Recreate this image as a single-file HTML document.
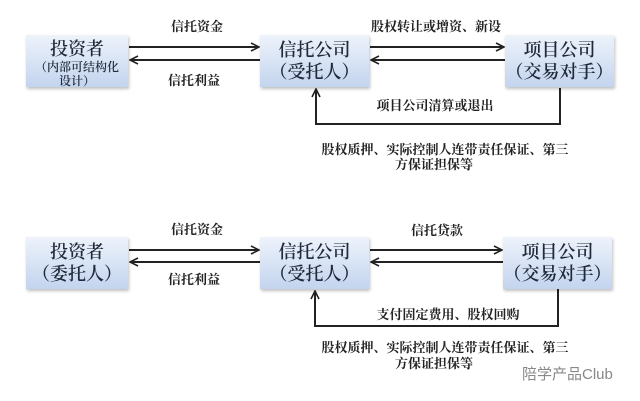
<!DOCTYPE html>
<html><head><meta charset="utf-8"><style>
body{margin:0;width:640px;height:401px;background:#fff;position:relative;overflow:hidden;font-family:"Liberation Serif","Noto Serif CJK SC",serif;color:#222}
.b{position:absolute;background:linear-gradient(#eef3fb,#c3d4ee);box-shadow:1px 2px 3px rgba(0,0,0,.25);text-align:center;font-size:18px;line-height:22px;color:#1f2a3a;font-weight:600}
.t{position:absolute;font-size:13px;white-space:nowrap;color:#222;font-weight:bold;transform:translateX(-50%)}
svg{position:absolute;left:0;top:0}
</style></head><body>
<svg width="640" height="401">
<defs><marker id="a" markerWidth="10" markerHeight="10" refX="9" refY="5" orient="auto" markerUnits="userSpaceOnUse"><path d="M1,1 L9,5 L1,9" fill="none" stroke="#222" stroke-width="1.6"/></marker></defs>
<g stroke="#222" stroke-width="2" fill="none" marker-end="url(#a)">
<line x1="129" y1="47" x2="259" y2="47"/><line x1="260" y1="60" x2="130" y2="60"/>
<line x1="370" y1="47" x2="504" y2="47"/><line x1="505" y1="60" x2="371" y2="60"/>
<polyline points="560,88 560,124 316,124 316,89"/>
<line x1="129" y1="250" x2="259" y2="250"/><line x1="260" y1="262" x2="130" y2="262"/>
<line x1="370" y1="250" x2="502" y2="250"/><line x1="503" y1="262" x2="371" y2="262"/>
<polyline points="558,289 558,326 315,326 315,291"/>
</g></svg>
<div class="b" style="left:26px;top:35px;width:102px;height:52px"><div style="padding-top:3px">投资者</div><div style="font-size:12px;line-height:14px">（内部可结构化<br>设计）</div></div>
<div class="b" style="left:260px;top:35px;width:109px;height:52px;padding-top:4px;box-sizing:border-box">信托公司<br>（受托人）</div>
<div class="b" style="left:505px;top:35px;width:109px;height:52px;padding-top:4px;box-sizing:border-box">项目公司<br>（交易对手）</div>
<div class="b" style="left:26px;top:237px;width:102px;height:52px;padding-top:4px;box-sizing:border-box">投资者<br>（委托人）</div>
<div class="b" style="left:260px;top:237px;width:109px;height:52px;padding-top:4px;box-sizing:border-box">信托公司<br>（受托人）</div>
<div class="b" style="left:503px;top:237px;width:109px;height:52px;padding-top:4px;box-sizing:border-box">项目公司<br>（交易对手）</div>
<div class="t" style="left:197px;top:16px">信托资金</div>
<div class="t" style="left:194px;top:70px">信托利益</div>
<div class="t" style="left:436px;top:16px">股权转让或增资、新设</div>
<div class="t" style="left:435px;top:95px">项目公司清算或退出</div>
<div class="t" style="left:445px;top:139px">股权质押、实际控制人连带责任保证、第三</div>
<div class="t" style="left:434px;top:154px">方保证担保等</div>
<div class="t" style="left:197px;top:219px">信托资金</div>
<div class="t" style="left:194px;top:269px">信托利益</div>
<div class="t" style="left:437px;top:220px">信托贷款</div>
<div class="t" style="left:448px;top:304px">支付固定费用、股权回购</div>
<div class="t" style="left:445px;top:337px">股权质押、实际控制人连带责任保证、第三</div>
<div class="t" style="left:434px;top:353px">方保证担保等</div>
<div style="position:absolute;left:522px;top:363px;font-size:15px;color:#888;white-space:nowrap;font-family:'Liberation Sans','Noto Sans CJK SC',sans-serif">陪学产品Club</div>
</body></html>
